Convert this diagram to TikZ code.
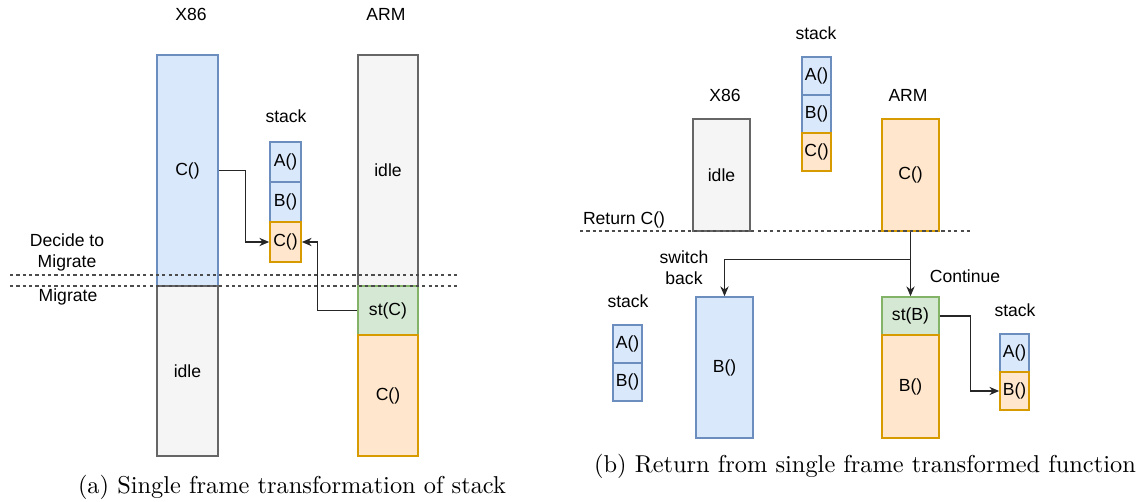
\documentclass[tikz,border=0pt]{standalone}
\usepackage{fontspec}
\usepackage{tikz}
\usetikzlibrary{arrows.meta}
\usepackage{xcolor}
\newfontfamily\drawfont{Liberation Sans}
\newlength{\pxunit}
\setlength{\pxunit}{0.41pt}
\definecolor{blueFill}{HTML}{DAE8FC}
\definecolor{blueLine}{HTML}{6C8EBF}
\definecolor{grayFill}{HTML}{F5F5F5}
\definecolor{grayLine}{HTML}{666666}
\definecolor{orangeFill}{HTML}{FFE6CC}
\definecolor{orangeLine}{HTML}{D79B00}
\definecolor{greenFill}{HTML}{D5E8D4}
\definecolor{greenLine}{HTML}{82B366}

\begin{document}
\begin{tikzpicture}[x=0.41pt, y=-0.41pt,
  lbl/.style={font=\drawfont\fontsize{7.2}{8.6}\selectfont},
  sz/.style 2 args={minimum width=#1\pxunit, minimum height=#2\pxunit},
  cell/.style={draw, line width=0.7pt, lbl, inner sep=0pt},
  bluecell/.style={cell, draw=blueLine, fill=blueFill},
  graycell/.style={cell, draw=grayLine, fill=grayFill},
  orangecell/.style={cell, draw=orangeLine, fill=orangeFill},
  greencell/.style={cell, draw=greenLine, fill=greenFill},
  link/.style={-{Stealth[length=4pt, width=3.4pt]}, line width=0.45pt, black!85},
  cut/.style={dash pattern=on 1.3pt off 1.3pt, line width=0.5pt, black!70}]
  \useasboundingbox (0,0) rectangle (1142,502);

  % (a) single frame transformation
  \node[lbl] (x86a) at (191,14) {X86};
  \node[lbl] (arma) at (386,14) {ARM};
  \node[bluecell, sz={61}{231}] (x86c) at (187.5,170.5) {C()};
  \node[graycell, sz={61}{170}] (x86idle) at (187.5,371) {idle};
  \node[graycell, sz={60}{231}] (armidle) at (388,170.5) {idle};
  \node[greencell, sz={60}{49}] (armst) at (388,310.5) {st(C)};
  \node[orangecell, sz={60}{121}] (armc) at (388,395.5) {C()};
  \node[lbl] (stacka) at (286,116) {stack};
  \node[bluecell, sz={31}{40}] (stka) at (285.5,162) {A()};
  \node[bluecell, sz={31}{40}] (stkb) at (285.5,202) {B()};
  \node[orangecell, sz={31}{40}] (stkc) at (285.5,242) {C()};
  \node[lbl, align=center] (decide) at (67,252) {Decide to\\Migrate};
  \node[lbl] (migrate) at (68,297) {Migrate};
  \draw[cut] (10,275) -- (458,275);
  \draw[cut] (10,286) -- (458,286);
  \draw[link] (x86c.east) -- ++(27,0) |- (stkc.west);
  \draw[link] (armst.west) -- ++(-40,0) |- (stkc.east);
  \node (capa) at (292,487) {(a) Single frame transformation of stack};

  % (b) return from transformed function
  \node[lbl] (stackb) at (816,33) {stack};
  \node[bluecell, sz={29}{38}] (tka) at (816.5,76) {A()};
  \node[bluecell, sz={29}{38}] (tkb) at (816.5,114) {B()};
  \node[orangecell, sz={29}{38}] (tkc) at (816.5,152) {C()};
  \node[lbl] (x86b) at (725,95) {X86};
  \node[lbl] (armb) at (908,95) {ARM};
  \node[graycell, sz={57}{112}] (idleb) at (721.5,175) {idle};
  \node[orangecell, sz={57}{112}] (armcb) at (910.5,175) {C()};
  \draw[cut] (580,231) -- (972,231);
  \node[lbl] (ret) at (624,220) {Return C()};
  \node[bluecell, sz={57}{141}] (x86bb) at (724.5,367.5) {B()};
  \node[greencell, sz={57}{38}] (stb) at (910.5,316) {st(B)};
  \node[orangecell, sz={57}{103}] (armbb) at (910.5,386.5) {B()};
  \draw[line width=0.45pt, black!85] (armcb.south) -- ++(0,28) coordinate (split);
  \draw[link] (split) -- (stb.north);
  \draw[link] (split) -| (x86bb.north);
  \node[lbl, align=center] (swb) at (684,268) {switch\\back};
  \node[lbl] (cont) at (965,276) {Continue};
  \node[lbl] (stackl) at (628,301) {stack};
  \node[bluecell, sz={29}{38}] (lka) at (627.5,344) {A()};
  \node[bluecell, sz={29}{38}] (lkb) at (627.5,382) {B()};
  \node[lbl] (stackr) at (1015,310) {stack};
  \node[bluecell, sz={29}{38}] (rka) at (1014.5,353) {A()};
  \node[orangecell, sz={29}{38}] (rkb) at (1014.5,391) {B()};
  \draw[link] (stb.east) -- ++(31,0) |- (rkb.west);
  \node (capb) at (865,466) {(b) Return from single frame transformed function};
\end{tikzpicture}
\end{document}
